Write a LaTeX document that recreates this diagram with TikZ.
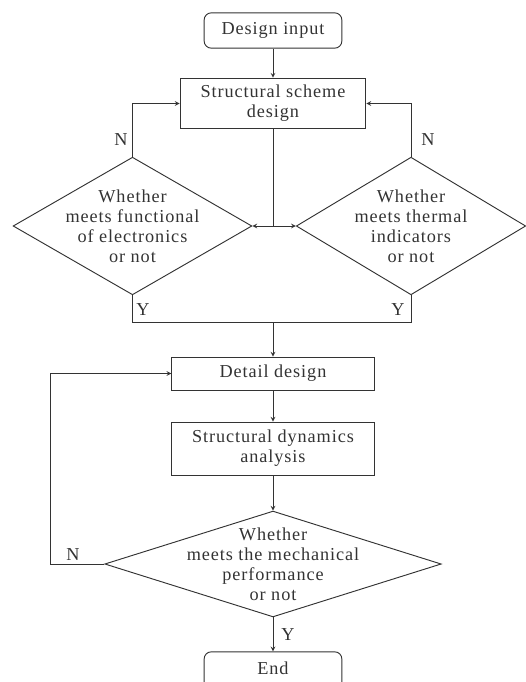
\documentclass[tikz,border=0pt]{standalone}
\usepackage{fontspec}
\setmainfont[LetterSpace=5]{Liberation Serif}
\usepackage{tikz}
\usetikzlibrary{shapes.geometric}

\begin{document}
\begin{tikzpicture}[x=0.85pt,y=-0.85pt,>=stealth,
    every node/.style={text=black!80,font=\fontsize{15.5}{17}\selectfont},
    line/.style={draw=black!80,line width=0.8pt},
    box/.style={line,rectangle,align=center,inner sep=0pt},
    term/.style={box,rounded corners=6pt},
    decision/.style={line,diamond,inner sep=0pt}]
  \useasboundingbox (0,0) rectangle (525,682);
  \node[term,minimum width=117pt,minimum height=30pt] (inp) at (273,30.5) {Design input};
  \node[box,minimum width=158pt,minimum height=43pt] (scheme) at (273,103.5) {Structural scheme\\design};
  \node[decision,minimum width=203pt,minimum height=117pt,
        label={[align=center]center:Whether\\meets functional\\of electronics\\or not}] (func) at (132.5,226) {};
  \node[decision,minimum width=195pt,minimum height=117pt,
        label={[align=center]center:Whether\\meets thermal\\indicators\\or not}] (therm) at (411,226) {};
  \node[box,minimum width=172pt,minimum height=28pt] (detail) at (273,373.5) {Detail design};
  \node[box,minimum width=172pt,minimum height=45pt] (dyn) at (273,448.5) {Structural dynamics\\analysis};
  \node[decision,minimum width=286pt,minimum height=90pt,
        label={[align=center]center:Whether\\meets the mechanical\\performance\\or not}] (mech) at (273,564) {};
  \node[term,minimum width=117pt,minimum height=36pt,text depth=9pt] (fin) at (273,673) {End};

  \draw[line,->] (inp) -- (scheme);
  \draw[line,->] (func.north) |- (scheme.west);
  \draw[line,->] (therm.north) |- (scheme.east);
  \draw[line] (scheme.south) -- (scheme.south |- func.east) coordinate (split);
  \draw[line,->] (split) -- (func.east);
  \draw[line,->] (split) -- (therm.west);
  \draw[line] (func.south) -- ++(0,27) coordinate (merge) -| (therm.south);
  \draw[line,->] (merge -| detail.north) -- (detail.north);
  \draw[line,->] (detail) -- (dyn);
  \draw[line,->] (dyn) -- (mech.north);
  \draw[line,->] (mech.west) -- ++(-54,0) |- (detail.west);
  \draw[line,->] (mech.south) -- (fin.north);
  \node (nf) at (121,140) {N};
  \node (nt) at (428,140) {N};
  \node (yf) at (143,310) {Y};
  \node (yt) at (398,310) {Y};
  \node (nm) at (73,555) {N};
  \node (ym) at (288,635) {Y};
\end{tikzpicture}
\end{document}
